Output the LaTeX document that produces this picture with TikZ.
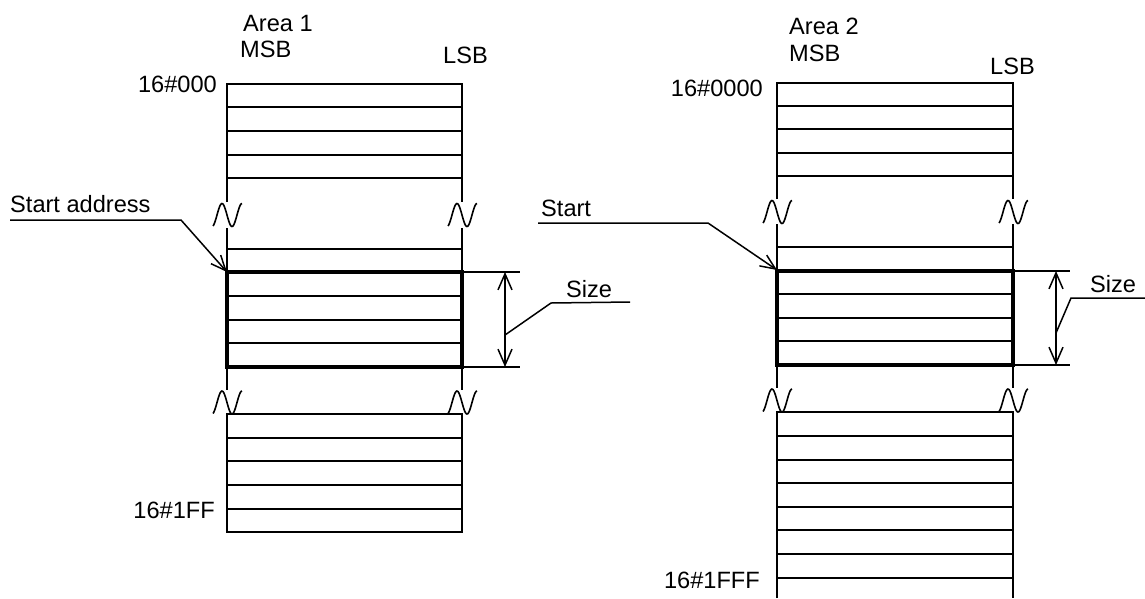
\documentclass[tikz,border=0pt]{standalone}
\usepackage{fontspec}
\setmainfont{Liberation Sans}
\usetikzlibrary{arrows.meta}
\newcommand\breakmark[2]{%
  \draw[wave] plot[domain=-14:15,samples=41,smooth] ({#1+\x},{#2-11.5*sin(18*(\x+10))});}
\begin{document}
\begin{tikzpicture}[x=1pt,y=-1pt,
  every node/.style={inner sep=0pt,font=\fontsize{23.6}{28}\selectfont},
  lbl/.style={anchor=base west},
  lblr/.style={anchor=base east},
  grid/.style={line width=1.6pt},
  thickbox/.style={line width=3.6pt},
  wave/.style={line width=1.6pt},
  ext/.style={line width=1.3pt},
  dim/.style={line width=1.5pt,{Straight Barb[length=16pt,width=14pt]}-{Straight Barb[length=16pt,width=14pt]}},
  leader/.style={line width=1.5pt},
  ptr/.style={line width=1.5pt,-{Straight Barb[length=15pt,width=13pt]}}]
\useasboundingbox (0,0) rectangle (1145,598);

% ---------------- Area 1 ----------------
\node[lbl] (a1) at (243,31.5) {Area 1};
\node[lbl] (msb1) at (240,57.5) {MSB};
\node[lbl] (lsb1) at (443,63) {LSB};
\node[lblr] (top1) at (217,92) {16\#000};
\node[lblr] (bot1) at (215,518) {16\#1FF};
\node[lbl] (start1) at (10,212) {Start address};
\node[lbl] (size1) at (566,297) {Size};

% top block
\draw[grid] (227,202) -- (227,84) -- (462,84) -- (462,202);
\foreach \y in {107,131,155,178} \draw[grid] (227,\y) -- (462,\y);
\breakmark{227}{215}
\breakmark{462}{215}
\draw[grid] (227,228) -- (227,272) (462,228) -- (462,272);
\draw[grid] (227,249) -- (462,249);
% selected block
\foreach \y in {296,320,343} \draw[grid] (227,\y) -- (462,\y);
\draw[thickbox] (227,272) rectangle (462,367);
\draw[grid] (227,367) -- (227,390) (462,367) -- (462,390);
\breakmark{227}{402.5}
\breakmark{462}{402.5}
% bottom block
\draw[grid] (227,414) rectangle (462,532);
\foreach \y in {438,461,485,509} \draw[grid] (227,\y) -- (462,\y);

% start pointer
\coordinate (s1a) at (10,220);
\coordinate (s1b) at (181,220);
\coordinate (box1) at (227,272);
\draw[ptr] (s1a) -- (s1b) -- (box1);

% size dimension
\coordinate (d1t) at (505,272);
\coordinate (d1b) at (505,367);
\draw[ext] (462,272) -- (520,272) (462,367) -- (520,367);
\draw[dim] (d1t) -- (d1b);
\coordinate (l1a) at (505,335);
\coordinate (l1b) at (551,303);
\coordinate (l1c) at (630,302);
\draw[leader] (l1a) -- (l1b) -- (l1c);

% ---------------- Area 2 ----------------
\node[lbl] (a2) at (789,34) {Area 2};
\node[lbl] (msb2) at (789,61) {MSB};
\node[lbl] (lsb2) at (990,74) {LSB};
\node[lblr] (top2) at (763,96.5) {16\#0000};
\node[lblr] (bot2) at (760,588) {16\#1FFF};
\node[lbl] (start2) at (541,216.5) {Start};
\node[lbl] (size2) at (1090,292) {Size};

% top block
\draw[grid] (777,199) -- (777,83) -- (1013,83) -- (1013,199);
\foreach \y in {106,129,153,176} \draw[grid] (777,\y) -- (1013,\y);
\breakmark{777}{212}
\breakmark{1013}{212}
\draw[grid] (777,224) -- (777,271) (1013,224) -- (1013,271);
\draw[grid] (777,247) -- (1013,247);
% selected block
\foreach \y in {294,318,341} \draw[grid] (777,\y) -- (1013,\y);
\draw[thickbox] (777,271) rectangle (1013,365);
\draw[grid] (777,365) -- (777,388) (1013,365) -- (1013,388);
\breakmark{777}{400.5}
\breakmark{1013}{400.5}
% bottom block
\draw[grid] (777,598) -- (777,412) -- (1013,412) -- (1013,598);
\foreach \y in {436,460,483,507,530,554,578} \draw[grid] (777,\y) -- (1013,\y);

% start pointer
\coordinate (s2a) at (538,223);
\coordinate (s2b) at (708,223);
\coordinate (box2) at (777,270);
\draw[ptr] (s2a) -- (s2b) -- (box2);

% size dimension
\coordinate (d2t) at (1056,271);
\coordinate (d2b) at (1056,365);
\draw[ext] (1013,271) -- (1070,271) (1013,365) -- (1070,365);
\draw[dim] (d2t) -- (d2b);
\coordinate (l2a) at (1056,333);
\coordinate (l2b) at (1071,298);
\coordinate (l2c) at (1145,298);
\draw[leader] (l2a) -- (l2b) -- (l2c);
\end{tikzpicture}
\end{document}
